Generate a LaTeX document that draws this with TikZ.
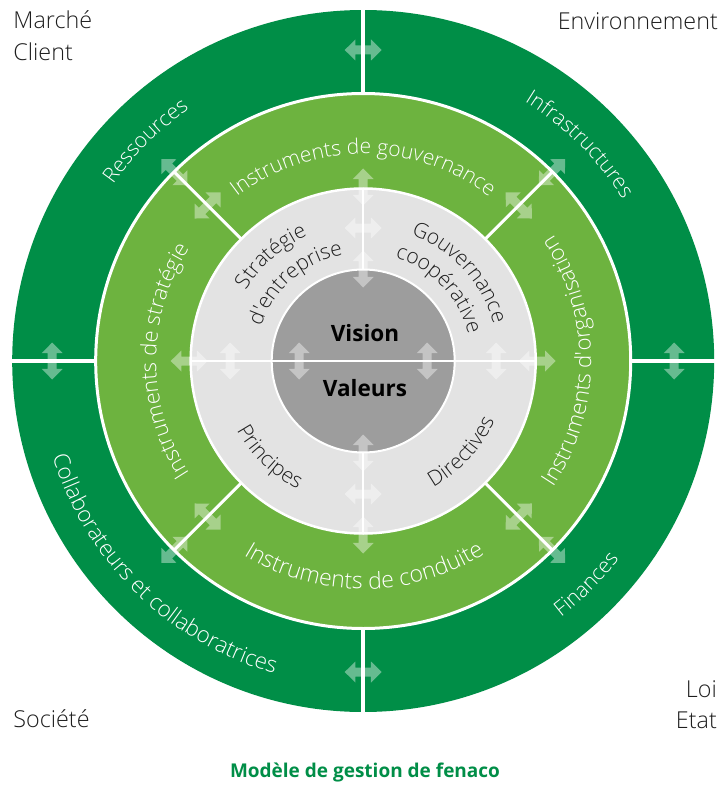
\documentclass[tikz,border=0pt]{standalone}
\usepackage{fontspec}
\usetikzlibrary{decorations.text}
\setmainfont{Open Sans}
\IfFontExistsTF{Open Sans Light}{\newfontfamily\lightfont{Open Sans Light}}{%
  \IfFontExistsTF{Lato Light}{\newfontfamily\lightfont{Lato Light}}{\newfontfamily\lightfont{Open Sans}}}
\definecolor{dkgreen}{RGB}{0,142,71}
\definecolor{ltgreen}{RGB}{109,179,63}
\definecolor{ltgray}{RGB}{227,227,227}
\definecolor{dkgray}{RGB}{157,157,157}
\definecolor{txtdark}{RGB}{30,30,30}
\newcommand{\ringw}[1]{\lightfont\fontsize{#1}{#1}\selectfont\color{white}}
\newcommand{\ringk}{\lightfont\fontsize{21}{21}\selectfont\color{txtdark}}
\newcommand{\cwtext}[4]{\path[decorate,decoration={text along path,text align=center,text={|#3|#4}}] ({#1+70}:#2) arc[start angle={#1+70}, end angle={#1-70}, radius=#2];}
\newcommand{\ccwtext}[4]{\path[decorate,decoration={text along path,text align=center,text={|#3|#4}}] ({#1-70}:#2) arc[start angle={#1-70}, end angle={#1+70}, radius=#2];}
\begin{document}
\begin{tikzpicture}[x=1pt,y=1pt,
  dblarr/.pic={\fill[white,fill opacity=.4] (-18.5,0) -- (-7.8,10.5) -- (-7.8,4.5) -- (7.8,4.5) -- (7.8,10.5) -- (18.5,0) -- (7.8,-10.5) -- (7.8,-4.5) -- (-7.8,-4.5) -- (-7.8,-10.5) -- cycle;},
  corner/.style={font=\lightfont\fontsize{23.3}{23.3}\selectfont, text=txtdark, inner sep=0pt},
  split/.style={white, line width=#1},
  split/.default=3pt]
\fill[white] (-363.2,-424) rectangle (357.8,361);
\useasboundingbox (-363.2,-424) rectangle (357.8,361);
% rings
\fill[dkgreen] (0,0) circle[radius=351];
\filldraw[fill=ltgreen, draw=white, line width=3pt] (0,0) circle[radius=267.5];
\foreach \a in {0,90,180,270} \draw[split=3.5pt] (\a:267) -- (\a:352);
\foreach \a in {45,135,225,315} \draw[split=3pt] (\a:172) -- (\a:267.5);
\filldraw[fill=ltgray, draw=white, line width=2.5pt] (0,0) circle[radius=172.5];
\foreach \a in {90,270} \draw[split=2.5pt] (\a:91) -- (\a:172.5);
\filldraw[fill=dkgray, draw=white, line width=2pt] (0,0) circle[radius=91.5];
\draw[split=2.5pt] (180:172.5) -- (0:172.5);
% arrows
\foreach \a in {0,90,180,270} {
  \pic[rotate=\a+90] at (\a:311) {dblarr};
  \pic[rotate=\a] at (\a:174) {dblarr};
  \pic[rotate=\a+90] at (\a:133) {dblarr};
}
\foreach \a in {45,135,225,315} {
  \pic[rotate=\a] at (\a:267) {dblarr};
  \pic[rotate=\a+90] at (\a:220) {dblarr};
}
\foreach \a in {90,270} \pic[rotate=\a] at (\a:92) {dblarr};
\foreach \a in {0,180} \pic[rotate=90] at (\a:64) {dblarr};
% outer ring texts
\cwtext{134.7}{306}{\ringw{21}}{Ressources}
\cwtext{45}{305.5}{\ringw{21}}{Infrastructures}
\ccwtext{-45}{323.5}{\ringw{21}}{Finances}
\ccwtext{225.6}{325}{\ringw{22.2}}{Collaborateurs et collaboratrices}
% green ring texts
\cwtext{90}{207}{\ringw{21}}{Instruments de gouvernance}
\cwtext{180}{207}{\ringw{21.6}}{Instruments de stratégie}
\ccwtext{0}{228}{\ringw{22.2}}{Instruments d'organisation}
\ccwtext{270.3}{228}{\ringw{23}}{Instruments de conduite}
% gray ring texts
\cwtext{131.5}{137}{\ringk}{Stratégie}
\cwtext{131}{108}{\ringk}{d'entreprise}
\cwtext{42.6}{135.5}{\ringk}{Gouvernance}
\cwtext{43.6}{108.5}{\ringk}{coopérative}
\ccwtext{225.8}{144}{\ringk}{Principes}
\ccwtext{317.3}{144.5}{\ringk}{Directives}
% centre
\node[font=\bfseries\fontsize{22.5}{22.5}\selectfont, text=black, anchor=base, inner sep=0pt] (vision) at (1.8,19.5) {Vision};
\node[font=\bfseries\fontsize{22.5}{22.5}\selectfont, text=black, anchor=base, inner sep=0pt] (valeurs) at (1.8,-35.5) {Valeurs};
% corner labels
\node[corner, anchor=base west] (marche) at (-349.9,332) {Marché};
\node[corner, anchor=base west] (client) at (-349.9,300.3) {Client};
\node[corner, anchor=base east] (envir) at (354.8,331.7) {Environnement};
\node[corner, anchor=base west] (societe) at (-349.9,-366) {Société};
\node[corner, anchor=base east] (loi) at (353.8,-336) {Loi};
\node[corner, anchor=base east] (etat) at (353.8,-367) {Etat};
% title
\node[font=\bfseries\fontsize{19}{19}\selectfont, text=dkgreen, anchor=base, inner sep=0pt] (title) at (1.8,-416.3) {Modèle de gestion de fenaco};
\end{tikzpicture}
\end{document}
